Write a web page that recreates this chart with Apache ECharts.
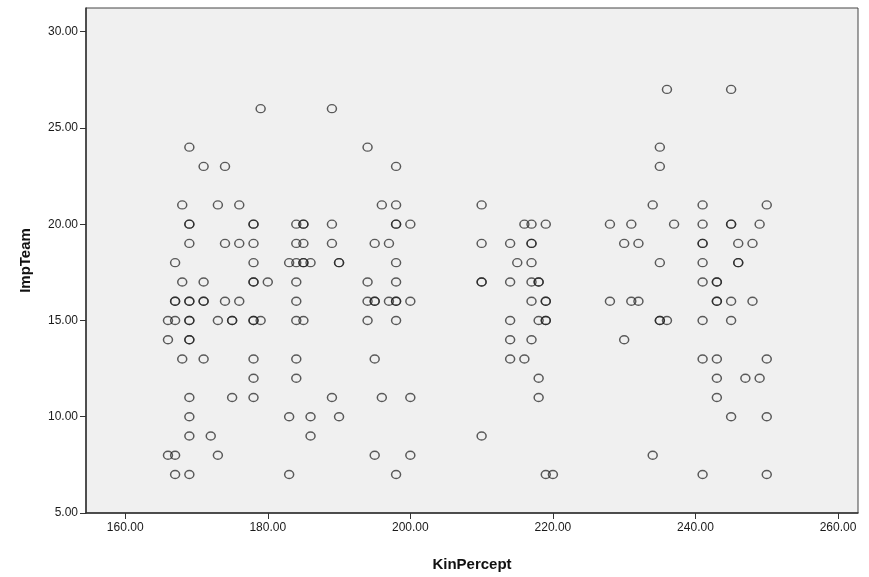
<!DOCTYPE html>
<html>
<head>
<meta charset="utf-8">
<script src="https://cdn.jsdelivr.net/npm/echarts@6/dist/echarts.min.js"></script>
<style>
  html, body { margin: 0; padding: 0; background: #ffffff; }
  #chart { width: 869px; height: 577px; }
</style>
</head>
<body>
<div id="chart"></div>
<script>
// KinPercept values observed at each ImpTeam score (repeats = coincident cases)
const kin27 = [236, 245];
const kin26 = [179, 189];
const kin24 = [169, 194, 235];
const kin23 = [171, 174, 198, 235];
const kin21 = [168, 173, 176, 196, 198, 210, 234, 241, 250];
const kin20 = [169, 169, 178, 178, 184, 185, 185, 189, 198, 198, 200, 216, 217, 219, 228, 231, 237, 241, 245, 245, 249];
const kin19 = [169, 174, 176, 178, 184, 185, 189, 195, 197, 210, 214, 217, 217, 230, 232, 241, 241, 246, 248];
const kin18 = [167, 178, 183, 184, 185, 185, 186, 190, 190, 198, 215, 217, 235, 241, 246, 246];
const kin17 = [168, 171, 178, 178, 180, 184, 194, 198, 210, 210, 214, 217, 218, 218, 241, 243, 243];
const kin16 = [167, 167, 169, 169, 171, 171, 174, 176, 184, 194, 195, 195, 197, 198, 198, 200, 217, 219, 219, 228, 231, 232, 243, 243, 245, 248];
const kin15 = [166, 167, 169, 169, 173, 175, 175, 178, 178, 179, 184, 185, 194, 198, 214, 218, 219, 219, 235, 235, 236, 241, 245];
const kin14 = [166, 169, 169, 214, 217, 230];
const kin13 = [168, 171, 178, 184, 195, 214, 216, 241, 243, 250];
const kin12 = [178, 184, 218, 243, 247, 249];
const kin11 = [169, 175, 178, 189, 196, 200, 218, 243];
const kin10 = [169, 183, 186, 190, 245, 250];
const kin09 = [169, 172, 186, 210];
const kin08 = [166, 167, 173, 195, 200, 234];
const kin07 = [167, 169, 183, 198, 219, 220, 241, 250];

const impLevels = [27, 26, 24, 23, 21, 20, 19, 18, 17, 16, 15, 14, 13, 12, 11, 10, 9, 8, 7];
const kinByLevel = [kin27, kin26, kin24, kin23, kin21, kin20, kin19, kin18, kin17, kin16,
                    kin15, kin14, kin13, kin12, kin11, kin10, kin09, kin08, kin07];

const xTicks = [160, 180, 200, 220, 240, 260];
const yTicks = [5, 10, 15, 20, 25, 30];

const points = [];
impLevels.forEach((imp, i) => {
  kinByLevel[i].forEach(k => points.push([k, imp]));
});

const chart = echarts.init(document.getElementById('chart'), null, { renderer: 'canvas' });
const labelFont = { fontFamily: 'Liberation Sans, Arial, sans-serif', fontSize: 12, color: '#1a1a1a' };
const titleFont = { fontFamily: 'Liberation Sans, Arial, sans-serif', fontSize: 15, fontWeight: 'bold', color: '#111' };

chart.setOption({
  animation: false,
  backgroundColor: '#ffffff',
  grid: {
    left: 86, right: 11, top: 8, bottom: 58,
    show: true,
    backgroundColor: '#f0f0f0',
    borderColor: '#444',
    borderWidth: 1
  },
  xAxis: {
    type: 'value',
    min: 154.5,
    max: 262.8,
    name: 'KinPercept',
    nameLocation: 'middle',
    nameGap: 44,
    nameTextStyle: titleFont,
    axisLine: { show: true, lineStyle: { color: '#333', width: 1.5 } },
    axisTick: { show: true, length: 6, customValues: xTicks, lineStyle: { color: '#333' } },
    axisLabel: Object.assign({ margin: 9, customValues: xTicks, formatter: v => v.toFixed(2) }, labelFont),
    splitLine: { show: false }
  },
  yAxis: {
    type: 'value',
    min: 5,
    max: 31.23,
    name: 'ImpTeam',
    nameLocation: 'middle',
    nameGap: 53,
    nameRotate: 90,
    nameTextStyle: titleFont,
    axisLine: { show: true, lineStyle: { color: '#333', width: 1.5 } },
    axisTick: { show: true, length: 6, customValues: yTicks, lineStyle: { color: '#333' } },
    axisLabel: Object.assign({ margin: 8, customValues: yTicks, formatter: v => v.toFixed(2) }, labelFont),
    splitLine: { show: false }
  },
  series: [{
    type: 'scatter',
    data: points,
    symbol: 'path://M0,5A5,5 0 1,0 10,5A5,5 0 1,0 0,5Z',
    symbolSize: [9, 8],
    itemStyle: {
      color: 'rgba(0,0,0,0)',
      borderColor: 'rgba(30,30,30,0.9)',
      borderWidth: 1.4
    }
  }]
});
</script>
</body>
</html>
